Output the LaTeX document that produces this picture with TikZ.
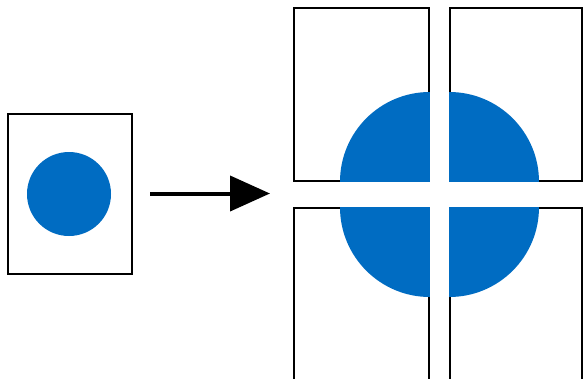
\documentclass[tikz,border=0pt]{standalone}
\usetikzlibrary{arrows.meta}
\definecolor{dotblue}{RGB}{0,108,194}
\tikzset{
  page/.style={draw=black, line width=1.6pt, fill=white},
  blob/.style={fill=dotblue},
  bigarrow/.style={line width=4pt, -{Triangle[length=40pt,width=35pt]}}
}
\begin{document}
\begin{tikzpicture}[x=1pt,y=-1pt]
\useasboundingbox (0,0) rectangle (584,378);
\clip (0,0) rectangle (584,378);
% small page
\draw[page] (8,114) rectangle (132,274);
\fill[blob] (69,194) circle (42);
% arrow
\coordinate (a1) at (150,193.5);
\coordinate (a2) at (270,193.5);
\draw[bigarrow] (a1) -- (a2);
% enlarged pages
\draw[page] (294,8) rectangle (429,181);
\draw[page] (450,8) rectangle (582,181);
\draw[page] (294,390) -- (294,208) -- (429,208) -- (429,390);
\draw[page] (450,390) -- (450,208) -- (582,208) -- (582,390);
% quarters of the enlarged dot (covering the page borders they meet)
\coordinate (q1) at (429.8,181.8);
\coordinate (q2) at (449.2,181.8);
\coordinate (q3) at (429.8,207.2);
\coordinate (q4) at (449.2,207.2);
\fill[blob] (q1) -- ++(-89.8,0) arc[start angle=180,end angle=270,radius=89.8] -- cycle;
\fill[blob] (q2) -- ++(89.8,0) arc[start angle=0,end angle=-90,radius=89.8] -- cycle;
\fill[blob] (q3) -- ++(-89.8,0) arc[start angle=180,end angle=90,radius=89.8] -- cycle;
\fill[blob] (q4) -- ++(89.8,0) arc[start angle=0,end angle=90,radius=89.8] -- cycle;
\end{tikzpicture}
\end{document}
